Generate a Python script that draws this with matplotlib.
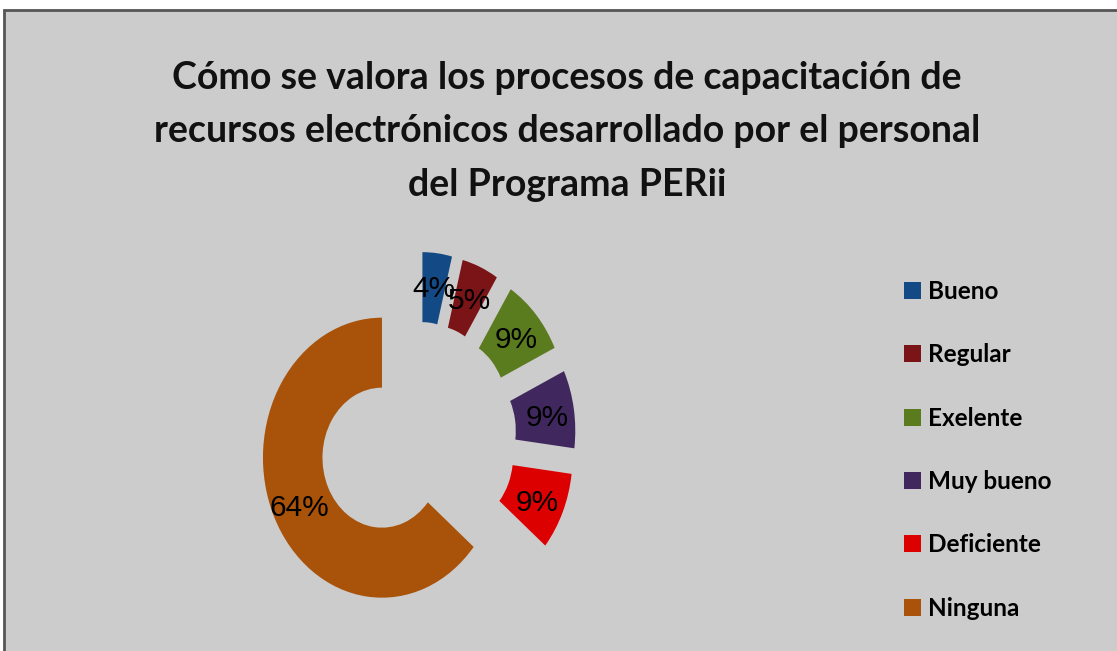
import matplotlib
matplotlib.use("Agg")
import matplotlib.pyplot as plt
from matplotlib.patches import Rectangle

# datos del grafico
categorias = ["Bueno", "Regular", "Exelente", "Muy bueno", "Deficiente", "Ninguna"]
porcentajes = [4, 5, 9, 9, 9, 64]
colores = ["#134a86", "#7a1416", "#5b7b1f", "#40285f", "#dd0000", "#a8520a"]
titulo = ["Cómo se valora los procesos de capacitación de",
          "recursos electrónicos desarrollado por el personal",
          "del Programa PERii"]

W, H = 1117, 651
fig = plt.figure(figsize=(W / 100, H / 100), dpi=100, facecolor="white")

# fondo gris con borde
fig.patches.append(Rectangle((4 / W, -0.05), 1.1, 1 - 10 / H + 0.05, transform=fig.transFigure,
                             facecolor="#cccccc", edgecolor="#555555", linewidth=2, zorder=-10))

# titulo, una linea por texto
for linea, yb in zip(titulo, [89, 142, 196]):
    fig.text(567 / W, 1 - yb / H, linea, ha="center", va="baseline", fontsize=27,
             fontweight="bold", family=["Lato", "DejaVu Sans"], color="#111111")

# ejes para la dona: 1 unidad = 119 px en x, 140 px en y
ax = fig.add_axes([227.1 / W, 3 / H, 380.8 / W, 420 / H], zorder=2)
ax.set_facecolor("none")
wedges, _, autotexts = ax.pie(porcentajes, colors=colores, startangle=90, counterclock=False,
                              explode=[0.33] * len(porcentajes), autopct="%1.0f%%",
                              pctdistance=0.77, wedgeprops=dict(width=0.5, linewidth=0),
                              textprops=dict(fontsize=21.5, color="black",
                                             family=["Liberation Sans", "DejaVu Sans"]))
for t in autotexts:
    t.set_y(t.get_position()[1] - 0.03)
ax.set_aspect("auto")
ax.set_xlim(-1.6, 1.6)
ax.set_ylim(-1.5, 1.5)
ax.axis("off")

leg = fig.legend(wedges, categorias, loc="upper left", bbox_to_anchor=(882 / W, 1 - 258 / H),
                 frameon=False, handlelength=0.7, handleheight=0.7,
                 handletextpad=0.3, labelspacing=1.66,
                 prop=dict(family=["Lato", "DejaVu Sans"], weight="bold", size=17.5))

fig.savefig("out.png", dpi=100, facecolor=fig.get_facecolor())
